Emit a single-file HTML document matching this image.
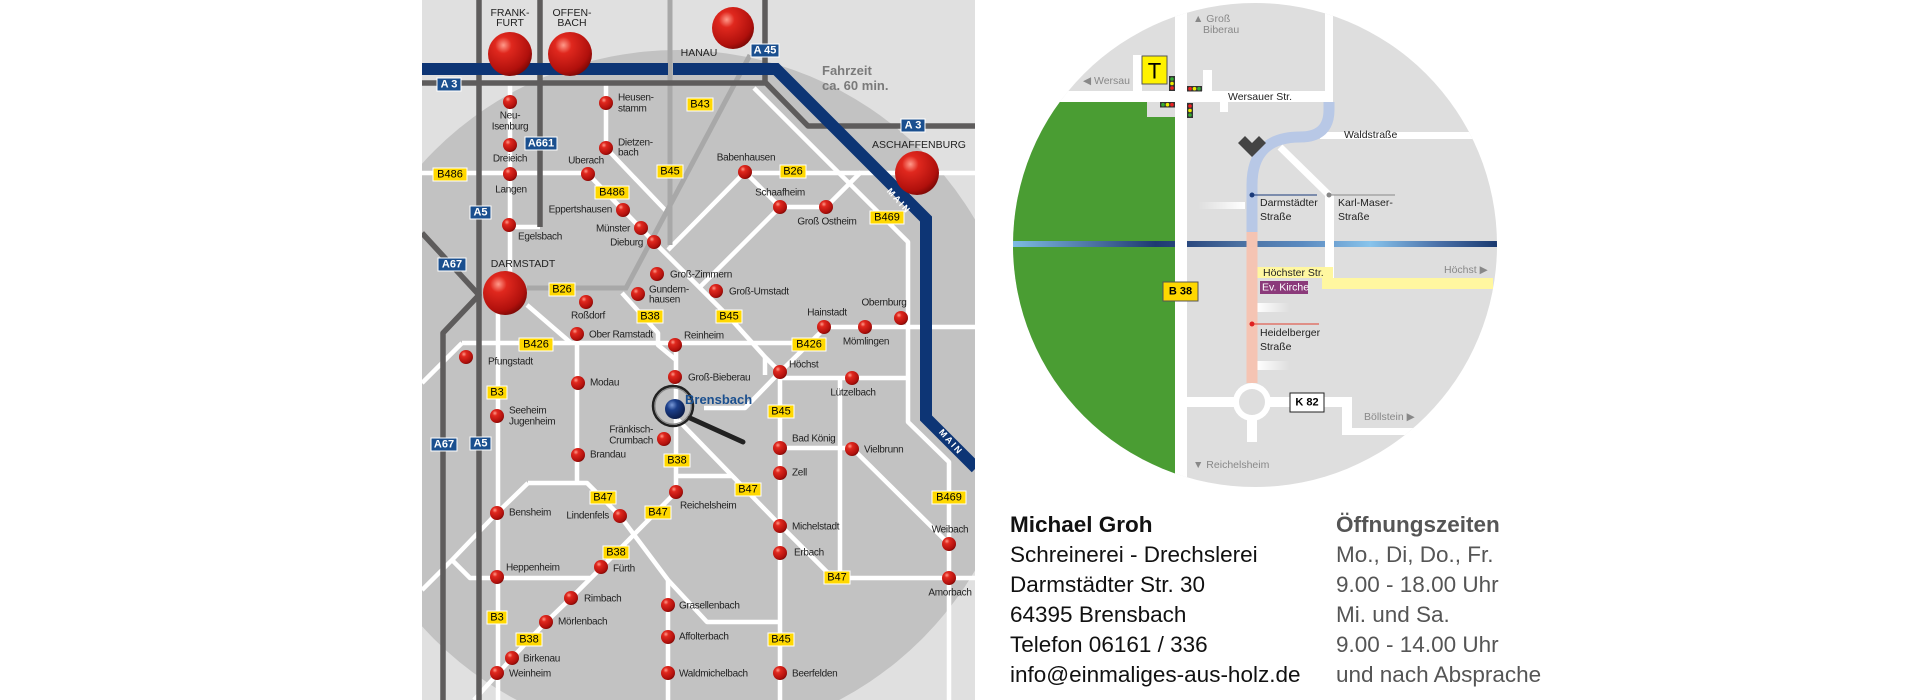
<!DOCTYPE html>
<html><head><meta charset="utf-8">
<style>
html,body{margin:0;padding:0;background:#fff;width:1920px;height:700px;overflow:hidden;}
svg{display:block;}
text{font-family:"Liberation Sans",sans-serif;}
</style></head>
<body>
<svg width="1920" height="700" viewBox="0 0 1920 700" xmlns="http://www.w3.org/2000/svg">
<defs>
<radialGradient id="rb" cx="0.35" cy="0.3" r="0.75">
<stop offset="0" stop-color="#ff9a8a"/><stop offset="0.25" stop-color="#e0281e"/><stop offset="0.8" stop-color="#b0100c"/><stop offset="1" stop-color="#7a0805"/>
</radialGradient>
<radialGradient id="bb" cx="0.35" cy="0.3" r="0.75">
<stop offset="0" stop-color="#7a9ad8"/><stop offset="0.35" stop-color="#1c3f8a"/><stop offset="1" stop-color="#0a1a45"/>
</radialGradient>
<clipPath id="mapc"><rect x="422" y="0" width="553" height="700"/></clipPath>
<clipPath id="circ"><circle cx="1255" cy="245" r="242"/></clipPath>
<linearGradient id="stripe" x1="1009" x2="1497" y1="0" y2="0" gradientUnits="userSpaceOnUse">
<stop offset="0" stop-color="#7fbfe6"/><stop offset="0.18" stop-color="#4a6fa0"/><stop offset="0.3" stop-color="#1e3a72"/><stop offset="0.37" stop-color="#2c4a80"/><stop offset="0.47" stop-color="#4a6fa0"/><stop offset="0.6" stop-color="#5a8ac0"/><stop offset="0.66" stop-color="#6ea0d0"/><stop offset="0.74" stop-color="#88c4ec"/><stop offset="0.88" stop-color="#4a70a8"/><stop offset="1" stop-color="#1a3a70"/>
</linearGradient>
<linearGradient id="fadeR" x1="0" x2="1" y1="0" y2="0"><stop offset="0" stop-color="#fff"/><stop offset="1" stop-color="#fff" stop-opacity="0"/></linearGradient>
<linearGradient id="fadeL" x1="0" x2="1" y1="0" y2="0"><stop offset="0" stop-color="#fff" stop-opacity="0"/><stop offset="1" stop-color="#fff"/></linearGradient>
</defs>

<!-- ============ LEFT MAP ============ -->
<g clip-path="url(#mapc)">
<rect x="422" y="0" width="553" height="700" fill="#e0e0e0"/>
<circle cx="678" cy="395" r="345" fill="#c2c2c2"/>

<g stroke="#fff" stroke-width="4.5" fill="none" stroke-linejoin="round">
<path d="M422 173 H587 M745 173 H975"/>
<path d="M510 83 V305 M498 305 V700"/>
<path d="M606 83 V148 L668 213"/>
<path d="M588 174 L623 210 L654 242 L729 317 L765 357 L780 372"/>
<path d="M765 357 V375"/>
<path d="M745 172 L668 250"/>
<path d="M745 172 L780 207 H826 L861 172"/>
<path d="M780 207 L700 287"/>
<path d="M754 88 L908 242 V422 L949 462 V700"/>
<path d="M826 327 H975"/>
<path d="M780 372 L826 327"/>
<path d="M527 305 L571 343"/>
<path d="M462 343 H800"/>
<path d="M462 343 L422 383"/>
<path d="M622 293 L658 333 V345 L676 360"/>
<path d="M577 334 V483"/>
<path d="M676 345 V492 M676 476 H732"/>
<path d="M528 483 H587 L620 516 L668 580 L707 622 H780"/>
<path d="M528 483 L497 513 L452 560 L422 590 M452 560 L470 578 H592"/>
<path d="M676 492 L601 568 L571 598 L546 622 L512 658 L474 700"/>
<path d="M678 420 L781 526 L833 578 H975"/>
<path d="M780 372 V700"/>
<path d="M780 378 H908 M840 378 V578"/>
<path d="M780 448 H852 L949 544"/>
<path d="M668 580 V700"/>
<path d="M780 372 L745 408 H704"/>
<path d="M510 227 H540"/>
</g>

<g stroke="#a8a8a8" stroke-width="5" fill="none">
<path d="M670 0 V245"/>
<path d="M750 55 L626 288 H527"/>
</g>

<g stroke="#5e5c5c" stroke-width="5.5" fill="none" stroke-linejoin="round">
<path d="M422 83 H766 L808 126 H975"/>
<path d="M479 0 V700"/>
<path d="M540 0 V227"/>
<path d="M765 0 V83"/>
<path d="M422 233 L479 295 L443 333 V700"/>
</g>
<path d="M422 69 H668 M673 69 H776 L926 219 V418 L976 468" stroke="#0d3575" stroke-width="12" fill="none" stroke-linejoin="miter"/>
<text x="0" y="0" transform="translate(899,201) rotate(48)" font-size="9" font-weight="bold" fill="#fff" letter-spacing="2" text-anchor="middle" dominant-baseline="central">MAIN</text>
<text x="0" y="0" transform="translate(951,442) rotate(48)" font-size="9" font-weight="bold" fill="#fff" letter-spacing="2" text-anchor="middle" dominant-baseline="central">MAIN</text>

<text x="822" y="75" font-size="13" font-weight="bold" fill="#7a7a7a">Fahrzeit</text>
<text x="822" y="90" font-size="13" font-weight="bold" fill="#7a7a7a">ca. 60 min.</text>

<g font-size="11" font-weight="bold" fill="#fff" text-anchor="middle" dominant-baseline="central">
<rect x="437" y="78" width="24" height="13" fill="#1a4f8f" stroke="#fff"/><text x="449" y="84.5">A 3</text>
<rect x="751" y="44" width="28" height="13" fill="#1a4f8f" stroke="#fff"/><text x="765" y="50.5">A 45</text>
<rect x="901" y="119" width="24" height="13" fill="#1a4f8f" stroke="#fff"/><text x="913" y="125.5">A 3</text>
<rect x="525" y="137" width="32" height="13" fill="#1a4f8f" stroke="#fff"/><text x="541" y="143.5">A661</text>
<rect x="470" y="206" width="21" height="13" fill="#1a4f8f" stroke="#fff"/><text x="480.5" y="212.5">A5</text>
<rect x="438" y="258" width="28" height="13" fill="#1a4f8f" stroke="#fff"/><text x="452" y="264.5">A67</text>
<rect x="431" y="438" width="26" height="13" fill="#1a4f8f" stroke="#fff"/><text x="444" y="444.5">A67</text>
<rect x="470" y="437" width="21" height="13" fill="#1a4f8f" stroke="#fff"/><text x="480.5" y="443.5">A5</text>
</g>

<g font-size="11" fill="#000" text-anchor="middle" dominant-baseline="central">
<rect x="433" y="168" width="34" height="13" fill="#ffd800" stroke="#fff"/><text x="450" y="174.5">B486</text>
<rect x="595" y="186" width="34" height="13" fill="#ffd800" stroke="#fff"/><text x="612" y="192.5">B486</text>
<rect x="657" y="165" width="26" height="13" fill="#ffd800" stroke="#fff"/><text x="670" y="171.5">B45</text>
<rect x="687" y="98" width="26" height="13" fill="#ffd800" stroke="#fff"/><text x="700" y="104.5">B43</text>
<rect x="780" y="165" width="26" height="13" fill="#ffd800" stroke="#fff"/><text x="793" y="171.5">B26</text>
<rect x="870" y="211" width="34" height="13" fill="#ffd800" stroke="#fff"/><text x="887" y="217.5">B469</text>
<rect x="549" y="283" width="26" height="13" fill="#ffd800" stroke="#fff"/><text x="562" y="289.5">B26</text>
<rect x="637" y="310" width="26" height="13" fill="#ffd800" stroke="#fff"/><text x="650" y="316.5">B38</text>
<rect x="716" y="310" width="26" height="13" fill="#ffd800" stroke="#fff"/><text x="729" y="316.5">B45</text>
<rect x="519" y="338" width="34" height="13" fill="#ffd800" stroke="#fff"/><text x="536" y="344.5">B426</text>
<rect x="792" y="338" width="34" height="13" fill="#ffd800" stroke="#fff"/><text x="809" y="344.5">B426</text>
<rect x="487" y="386" width="20" height="13" fill="#ffd800" stroke="#fff"/><text x="497" y="392.5">B3</text>
<rect x="768" y="405" width="26" height="13" fill="#ffd800" stroke="#fff"/><text x="781" y="411.5">B45</text>
<rect x="664" y="454" width="26" height="13" fill="#ffd800" stroke="#fff"/><text x="677" y="460.5">B38</text>
<rect x="590" y="491" width="26" height="13" fill="#ffd800" stroke="#fff"/><text x="603" y="497.5">B47</text>
<rect x="735" y="483" width="26" height="13" fill="#ffd800" stroke="#fff"/><text x="748" y="489.5">B47</text>
<rect x="645" y="506" width="26" height="13" fill="#ffd800" stroke="#fff"/><text x="658" y="512.5">B47</text>
<rect x="932" y="491" width="34" height="13" fill="#ffd800" stroke="#fff"/><text x="949" y="497.5">B469</text>
<rect x="603" y="546" width="26" height="13" fill="#ffd800" stroke="#fff"/><text x="616" y="552.5">B38</text>
<rect x="824" y="571" width="26" height="13" fill="#ffd800" stroke="#fff"/><text x="837" y="577.5">B47</text>
<rect x="487" y="611" width="20" height="13" fill="#ffd800" stroke="#fff"/><text x="497" y="617.5">B3</text>
<rect x="516" y="633" width="26" height="13" fill="#ffd800" stroke="#fff"/><text x="529" y="639.5">B38</text>
<rect x="768" y="633" width="26" height="13" fill="#ffd800" stroke="#fff"/><text x="781" y="639.5">B45</text>
</g>

<g fill="url(#rb)">
<circle cx="510" cy="54" r="22"/><circle cx="570" cy="54" r="22"/><circle cx="733" cy="28" r="21"/>
<circle cx="505" cy="293" r="22"/><circle cx="917" cy="173" r="22"/>
</g>
<g font-size="10.5" fill="#222" text-anchor="middle" dominant-baseline="central">
<text x="510" y="13">FRANK-</text><text x="510" y="23">FURT</text>
<text x="572" y="13">OFFEN-</text><text x="572" y="23">BACH</text>
<text x="699" y="53">HANAU</text>
<text x="523" y="264">DARMSTADT</text>
<text x="919" y="145">ASCHAFFENBURG</text>
</g>

<g fill="url(#rb)">
<circle cx="510" cy="102" r="7"/><circle cx="510" cy="145" r="7"/><circle cx="510" cy="174" r="7"/><circle cx="509" cy="225" r="7"/>
<circle cx="606" cy="103" r="7"/><circle cx="606" cy="148" r="7"/><circle cx="588" cy="174" r="7"/>
<circle cx="623" cy="210" r="7"/><circle cx="641" cy="228" r="7"/><circle cx="654" cy="242" r="7"/>
<circle cx="657" cy="274" r="7"/><circle cx="638" cy="294" r="7"/><circle cx="716" cy="291" r="7"/>
<circle cx="586" cy="302" r="7"/><circle cx="577" cy="334" r="7"/><circle cx="675" cy="345" r="7"/>
<circle cx="745" cy="172" r="7"/><circle cx="780" cy="207" r="7"/><circle cx="826" cy="207" r="7"/>
<circle cx="824" cy="327" r="7"/><circle cx="865" cy="327" r="7"/><circle cx="901" cy="318" r="7"/>
<circle cx="466" cy="357" r="7"/><circle cx="578" cy="383" r="7"/><circle cx="675" cy="377" r="7"/>
<circle cx="780" cy="372" r="7"/><circle cx="852" cy="378" r="7"/><circle cx="497" cy="416" r="7"/>
<circle cx="664" cy="439" r="7"/><circle cx="578" cy="455" r="7"/><circle cx="780" cy="448" r="7"/>
<circle cx="852" cy="449" r="7"/><circle cx="780" cy="473" r="7"/><circle cx="676" cy="492" r="7"/>
<circle cx="497" cy="513" r="7"/><circle cx="620" cy="516" r="7"/><circle cx="780" cy="526" r="7"/>
<circle cx="780" cy="553" r="7"/><circle cx="949" cy="544" r="7"/><circle cx="949" cy="578" r="7"/>
<circle cx="497" cy="577" r="7"/><circle cx="601" cy="567" r="7"/><circle cx="571" cy="598" r="7"/>
<circle cx="668" cy="605" r="7"/><circle cx="546" cy="622" r="7"/><circle cx="668" cy="637" r="7"/>
<circle cx="512" cy="658" r="7"/><circle cx="497" cy="673" r="7"/><circle cx="668" cy="673" r="7"/>
<circle cx="780" cy="673" r="7"/>
</g>

<g font-size="10" fill="#222" dominant-baseline="central" letter-spacing="-0.3">
<text x="510" y="116" text-anchor="middle">Neu-</text><text x="510" y="127" text-anchor="middle">Isenburg</text>
<text x="510" y="159" text-anchor="middle">Dreieich</text>
<text x="511" y="190" text-anchor="middle">Langen</text>
<text x="518" y="237">Egelsbach</text>
<text x="618" y="98">Heusen-</text><text x="618" y="109">stamm</text>
<text x="618" y="143">Dietzen-</text><text x="618" y="153">bach</text>
<text x="586" y="161" text-anchor="middle">Uberach</text>
<text x="612" y="210" text-anchor="end">Eppertshausen</text>
<text x="630" y="229" text-anchor="end">Münster</text>
<text x="643" y="243" text-anchor="end">Dieburg</text>
<text x="670" y="275">Groß-Zimmern</text>
<text x="649" y="290">Gundern-</text><text x="649" y="300">hausen</text>
<text x="729" y="292">Groß-Umstadt</text>
<text x="588" y="316" text-anchor="middle">Roßdorf</text>
<text x="589" y="335">Ober Ramstadt</text>
<text x="684" y="336">Reinheim</text>
<text x="746" y="158" text-anchor="middle">Babenhausen</text>
<text x="780" y="193" text-anchor="middle">Schaafheim</text>
<text x="827" y="222" text-anchor="middle">Groß Ostheim</text>
<text x="827" y="313" text-anchor="middle">Hainstadt</text>
<text x="866" y="342" text-anchor="middle">Mömlingen</text>
<text x="884" y="303" text-anchor="middle">Obernburg</text>
<text x="488" y="362">Pfungstadt</text>
<text x="590" y="383">Modau</text>
<text x="688" y="378">Groß-Bieberau</text>
<text x="789" y="365">Höchst</text>
<text x="853" y="393" text-anchor="middle">Lützelbach</text>
<text x="509" y="411">Seeheim</text><text x="509" y="422">Jugenheim</text>
<text x="653" y="430" text-anchor="end">Fränkisch-</text><text x="653" y="441" text-anchor="end">Crumbach</text>
<text x="590" y="455">Brandau</text>
<text x="792" y="439">Bad König</text>
<text x="864" y="450">Vielbrunn</text>
<text x="792" y="473">Zell</text>
<text x="680" y="506">Reichelsheim</text>
<text x="509" y="513">Bensheim</text>
<text x="609" y="516" text-anchor="end">Lindenfels</text>
<text x="792" y="527">Michelstadt</text>
<text x="794" y="553">Erbach</text>
<text x="950" y="530" text-anchor="middle">Weibach</text>
<text x="950" y="593" text-anchor="middle">Amorbach</text>
<text x="506" y="568">Heppenheim</text>
<text x="613" y="569">Fürth</text>
<text x="584" y="599">Rimbach</text>
<text x="679" y="606">Grasellenbach</text>
<text x="558" y="622">Mörlenbach</text>
<text x="679" y="637">Affolterbach</text>
<text x="523" y="659">Birkenau</text>
<text x="509" y="674">Weinheim</text>
<text x="679" y="674">Waldmichelbach</text>
<text x="792" y="674">Beerfelden</text>
</g>

<line x1="690" y1="418" x2="743" y2="442" stroke="#222" stroke-width="5" stroke-linecap="round"/>
<circle cx="673" cy="406" r="20" fill="none" stroke="#222" stroke-width="2.5"/>
<circle cx="673" cy="406" r="18" fill="none" stroke="#888" stroke-width="1"/>
<circle cx="675" cy="409" r="10" fill="url(#bb)"/>
<text x="685" y="404" font-size="13" font-weight="bold" fill="#1a4f8f">Brensbach</text>
</g>

<!-- ============ RIGHT CIRCLE MAP ============ -->
<g clip-path="url(#circ)">
<rect x="1000" y="0" width="510" height="500" fill="#dedede"/>
<path d="M1000 102 H1147 V117 H1175 V500 H1000 Z" fill="#4a9d33"/>
<rect x="1000" y="241" width="500" height="6" fill="url(#stripe)"/>
<g fill="#fff">
<rect x="1175" y="0" width="12" height="500"/>
<rect x="1000" y="91" width="333" height="11"/>
<rect x="1325" y="0" width="8" height="102"/>
<rect x="1133" y="55" width="9" height="36"/>
<rect x="1203" y="70" width="9" height="21"/>
<rect x="1220" y="102" width="8" height="10"/>
<rect x="1320" y="132" width="155" height="7"/>
<rect x="1187" y="397" width="165" height="10"/>
<rect x="1342" y="397" width="10" height="38"/>
<rect x="1342" y="428" width="160" height="7"/>
<rect x="1247" y="402" width="10" height="40"/>
<rect x="1325" y="195" width="9" height="83"/>
</g>
<rect x="1198" y="202" width="47" height="7" fill="url(#fadeL)"/>
<rect x="1257" y="303" width="33" height="9" fill="url(#fadeR)"/>
<rect x="1257" y="361" width="33" height="9" fill="url(#fadeR)"/>
<path d="M1280 147 L1329 195" stroke="#fff" stroke-width="7"/>
<rect x="1257" y="267" width="76" height="11" fill="#fff7a0"/>
<rect x="1322" y="278" width="171" height="11" fill="#fff7a0"/>
<path d="M1329 102 V110 Q1329 137 1300 137 Q1252 137 1252 185 V232" stroke="#b8c8e6" stroke-width="11" fill="none"/>
<rect x="1246.5" y="232" width="11" height="151" fill="#f5c4b3"/>
<circle cx="1252" cy="402" r="19" fill="#fff"/>
<circle cx="1252" cy="402" r="13" fill="#dedede"/>
<polygon points="1238,143 1245,136 1252,143 1259,136 1266,143 1252,157" fill="#444"/>
<line x1="1252" y1="195" x2="1317" y2="195" stroke="#1a3a7a" stroke-width="1"/>
<circle cx="1252" cy="195" r="2.5" fill="#1a3a7a"/>
<line x1="1329" y1="195" x2="1395" y2="195" stroke="#888" stroke-width="1"/>
<circle cx="1329" cy="195" r="2.5" fill="#888"/>
<line x1="1252" y1="324" x2="1319" y2="324" stroke="#e04030" stroke-width="1"/>
<circle cx="1252" cy="324" r="2.5" fill="#e02020"/>
<g>
<rect x="1169" y="76" width="6" height="15" fill="#333"/>
<circle cx="1172" cy="79" r="1.8" fill="#3a3"/><circle cx="1172" cy="83.5" r="1.8" fill="#ee0"/><circle cx="1172" cy="88" r="1.8" fill="#e22"/>
<rect x="1187" y="86" width="15" height="5.5" fill="#333"/>
<circle cx="1190" cy="88.7" r="1.8" fill="#e22"/><circle cx="1194.5" cy="88.7" r="1.8" fill="#ee0"/><circle cx="1199" cy="88.7" r="1.8" fill="#3a3"/>
<rect x="1160" y="102" width="15" height="5.5" fill="#333"/>
<circle cx="1163" cy="104.7" r="1.8" fill="#3a3"/><circle cx="1167.5" cy="104.7" r="1.8" fill="#ee0"/><circle cx="1172" cy="104.7" r="1.8" fill="#e22"/>
<rect x="1187" y="103" width="6" height="15" fill="#333"/>
<circle cx="1190" cy="106" r="1.8" fill="#e22"/><circle cx="1190" cy="110.5" r="1.8" fill="#ee0"/><circle cx="1190" cy="115" r="1.8" fill="#3a3"/>
</g>
<rect x="1142" y="56" width="25" height="28" fill="#fff200" stroke="#555" stroke-width="1"/>
<text x="1154.5" y="71" font-size="22" text-anchor="middle" dominant-baseline="central" fill="#000">T</text>
<rect x="1163" y="282" width="35" height="19" fill="#ffd800" stroke="#555" stroke-width="1"/>
<text x="1180.5" y="291.5" font-size="11" font-weight="bold" text-anchor="middle" dominant-baseline="central">B 38</text>
<rect x="1290" y="393" width="34" height="19" fill="#fff" stroke="#222" stroke-width="1"/>
<text x="1307" y="402.5" font-size="11" font-weight="bold" text-anchor="middle" dominant-baseline="central">K 82</text>
<rect x="1260" y="281" width="48" height="13" fill="#8b3a7a"/>
<text x="1262" y="287.5" font-size="10.5" fill="#fff" dominant-baseline="central">Ev. Kirche</text>
<g font-size="10.5" dominant-baseline="central" fill="#222">
<text x="1228" y="97">Wersauer Str.</text>
<text x="1344" y="135">Waldstraße</text>
<text x="1260" y="203">Darmstädter</text><text x="1260" y="217">Straße</text>
<text x="1338" y="203">Karl-Maser-</text><text x="1338" y="217">Straße</text>
<text x="1263" y="273">Höchster Str.</text>
<text x="1260" y="333">Heidelberger</text><text x="1260" y="347">Straße</text>
</g>
<g font-size="10.5" dominant-baseline="central" fill="#888">
<text x="1193" y="19">▲ Groß</text><text x="1203" y="30">Biberau</text>
<text x="1083" y="81">◀ Wersau</text>
<text x="1444" y="270">Höchst ▶</text>
<text x="1364" y="417">Böllstein ▶</text>
<text x="1193" y="465">▼ Reichelsheim</text>
</g>
</g>

<!-- ============ TEXT BLOCK ============ -->
<g font-size="22.5">
<text x="1010" y="532" font-weight="bold" fill="#111">Michael Groh</text>
<text x="1010" y="562" fill="#111">Schreinerei - Drechslerei</text>
<text x="1010" y="592" fill="#111">Darmstädter Str. 30</text>
<text x="1010" y="622" fill="#111">64395 Brensbach</text>
<text x="1010" y="652" fill="#111">Telefon 06161 / 336</text>
<text x="1010" y="682" fill="#111">info@einmaliges-aus-holz.de</text>
<text x="1336" y="532" font-weight="bold" fill="#555">Öffnungszeiten</text>
<text x="1336" y="562" fill="#555">Mo., Di, Do., Fr.</text>
<text x="1336" y="592" fill="#555">9.00 - 18.00 Uhr</text>
<text x="1336" y="622" fill="#555">Mi. und Sa.</text>
<text x="1336" y="652" fill="#555">9.00 - 14.00 Uhr</text>
<text x="1336" y="682" fill="#555">und nach Absprache</text>
</g>
</svg>
</body></html>
